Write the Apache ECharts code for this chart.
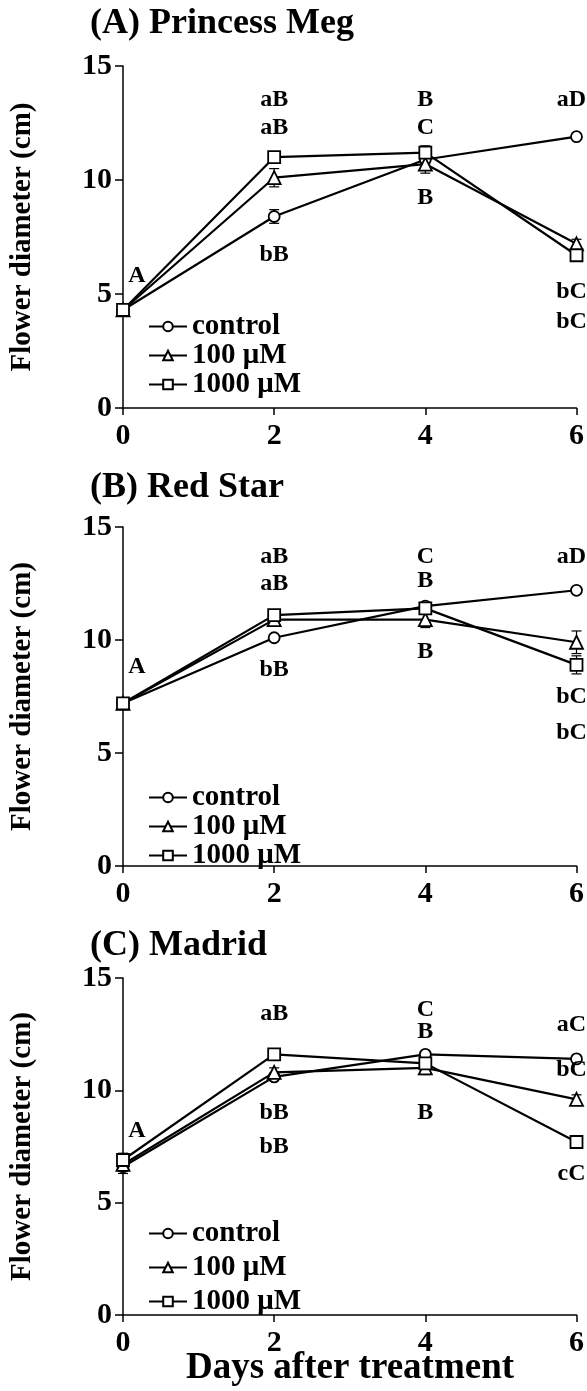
<!DOCTYPE html>
<html>
<head>
<meta charset="utf-8">
<script src="https://cdn.jsdelivr.net/npm/echarts@6/dist/echarts.min.js"></script>
<style>
html,body{margin:0;padding:0;background:#fff;}
#chart{width:587px;height:1391px;}
</style>
</head>
<body>
<div id="chart"></div>
<script>
// ---- data ----
const days = [0, 2, 4, 6];
const xTicks = ['0', '2', '4', '6'];
const seriesNames = ['control', '100 μM', '1000 μM'];
const panelTitles = ['(A) Princess Meg', '(B) Red Star', '(C) Madrid'];

// Panel A – Princess Meg
const ctrlA = [4.3, 8.4, 10.9, 11.9];
const m100A = [4.3, 10.1, 10.7, 7.2];
const m1000A = [4.3, 11.0, 11.2, 6.7];
const errCtrlA = [0.1, 0.3, 0.2, 0.1];
const err100A = [0.1, 0.4, 0.4, 0.2];
const err1000A = [0.1, 0.1, 0.3, 0.1];
const lettersA = [[0, 5.8, 'A'], [2, 13.5, 'aB'], [2, 12.3, 'aB'], [2, 6.7, 'bB'],
  [4, 13.5, 'B'], [4, 12.3, 'C'], [4, 9.2, 'B'],
  [6, 13.5, 'aD'], [6, 5.1, 'bC'], [6, 3.8, 'bC']];

// Panel B – Red Star
const ctrlB = [7.2, 10.1, 11.5, 12.2];
const m100B = [7.2, 10.9, 10.9, 9.9];
const m1000B = [7.2, 11.1, 11.4, 8.9];
const errCtrlB = [0.2, 0.1, 0.1, 0.1];
const err100B = [0.2, 0.2, 0.35, 0.5];
const err1000B = [0.2, 0.2, 0.2, 0.4];
const lettersB = [[0, 8.8, 'A'], [2, 13.7, 'aB'], [2, 12.5, 'aB'], [2, 8.7, 'bB'],
  [4, 13.7, 'C'], [4, 12.6, 'B'], [4, 9.5, 'B'],
  [6, 13.7, 'aD'], [6, 7.5, 'bC'], [6, 5.9, 'bC']];

// Panel C – Madrid
const ctrlC = [6.6, 10.6, 11.6, 11.4];
const m100C = [6.7, 10.8, 11.0, 9.6];
const m1000C = [6.9, 11.6, 11.2, 7.7];
const errCtrlC = [0.3, 0.1, 0.1, 0.1];
const err100C = [0.3, 0.2, 0.3, 0.2];
const err1000C = [0.3, 0.1, 0.2, 0.2];
const lettersC = [[0, 8.2, 'A'], [2, 13.4, 'aB'], [2, 9.0, 'bB'], [2, 7.5, 'bB'],
  [4, 13.6, 'C'], [4, 12.6, 'B'], [4, 9.0, 'B'],
  [6, 12.9, 'aC'], [6, 10.9, 'bC'], [6, 6.3, 'cC']];

const yTicks = [0, 5, 10, 15];

// ---- layout / styles ----
const FONT = '"Liberation Serif", "Times New Roman", serif';
const grids = [
  { top: 66, height: 342 },
  { top: 527, height: 339 },
  { top: 978, height: 337 }
];
const titleTops = [6, 470, 928];
const legendTops = [312, 783, 1219];
const legendGaps = [0, 0, 5];
const symbols = ['circle', 'triangle', 'rect'];
const symbolSizes = [11, 13, 12];

const panels = [
  { vals: [ctrlA, m100A, m1000A], errs: [errCtrlA, err100A, err1000A], letters: lettersA },
  { vals: [ctrlB, m100B, m1000B], errs: [errCtrlB, err100B, err1000B], letters: lettersB },
  { vals: [ctrlC, m100C, m1000C], errs: [errCtrlC, err100C, err1000C], letters: lettersC }
];

const option = {
  backgroundColor: '#fff',
  animation: false,
  title: panelTitles.map((t, i) => ({
    text: t, left: 90, top: titleTops[i], padding: 0,
    textStyle: { fontFamily: FONT, fontWeight: 'bold', fontSize: 36, color: '#000' }
  })),
  graphic: [{
    type: 'text', x: 350, y: 1368,
    style: {
      text: 'Days after treatment', align: 'center', verticalAlign: 'middle',
      font: 'bold 37px ' + FONT, fill: '#000'
    }
  }],
  legend: legendTops.map((t, i) => ({
    data: seriesNames, orient: 'vertical', left: 148, top: t,
    itemWidth: 38, itemHeight: 12, itemGap: legendGaps[i], selectedMode: false, padding: 0,
    textStyle: { fontFamily: FONT, fontWeight: 'bold', fontSize: 29, lineHeight: 27, color: '#000', padding: [0, 0, 0, 0] }
  })),
  grid: grids.map(g => ({ left: 123, right: 9, top: g.top, height: g.height })),
  xAxis: grids.map((g, i) => ({
    type: 'value', gridIndex: i, min: 0, max: 6, interval: 2,
    axisLine: { lineStyle: { color: '#000', width: 1.5 } },
    axisTick: { show: true, length: 7, lineStyle: { color: '#000', width: 1.5 } },
    splitLine: { show: false },
    axisLabel: {
      margin: 13, fontFamily: FONT, fontWeight: 'bold', fontSize: 30, color: '#000',
      formatter: v => xTicks[days.indexOf(v)] ?? ''
    }
  })),
  yAxis: grids.map((g, i) => ({
    type: 'value', gridIndex: i, min: 0, max: 15, interval: 5,
    name: 'Flower diameter (cm)', nameLocation: 'middle', nameGap: 86,
    nameTextStyle: { fontFamily: FONT, fontWeight: 'bold', fontSize: 29, color: '#000' },
    axisLine: { show: true, lineStyle: { color: '#000', width: 1.5 } },
    axisTick: { show: true, length: 8, lineStyle: { color: '#000', width: 1.5 } },
    splitLine: { show: false },
    axisLabel: {
      margin: 11, fontFamily: FONT, fontWeight: 'bold', fontSize: 30, color: '#000',
      formatter: v => yTicks.includes(v) ? String(v) : ''
    }
  })),
  series: []
};

panels.forEach((p, gi) => {
  // error bars
  p.vals.forEach((vals, si) => {
    option.series.push({
      type: 'custom', xAxisIndex: gi, yAxisIndex: gi, z: 1, silent: true,
      data: days.map((d, k) => [d, vals[k] - p.errs[si][k], vals[k] + p.errs[si][k]]),
      renderItem: (params, api) => {
        const x = api.value(0);
        const top = api.coord([x, api.value(2)]);
        const bot = api.coord([x, api.value(1)]);
        const w = 5;
        const st = { stroke: '#000', lineWidth: 1.2 };
        return {
          type: 'group', children: [
            { type: 'line', shape: { x1: top[0], y1: top[1], x2: bot[0], y2: bot[1] }, style: st },
            { type: 'line', shape: { x1: top[0] - w, y1: top[1], x2: top[0] + w, y2: top[1] }, style: st },
            { type: 'line', shape: { x1: bot[0] - w, y1: bot[1], x2: bot[0] + w, y2: bot[1] }, style: st }
          ]
        };
      }
    });
  });
  // lines
  p.vals.forEach((vals, si) => {
    option.series.push({
      type: 'line', name: seriesNames[si], xAxisIndex: gi, yAxisIndex: gi, z: 3 + si,
      data: days.map((d, k) => [d, vals[k]]),
      symbol: symbols[si], symbolSize: symbolSizes[si], showSymbol: true,
      lineStyle: { color: '#000', width: 2.2 },
      itemStyle: { color: '#fff', borderColor: '#000', borderWidth: 1.8 },
      emphasis: { disabled: true }
    });
  });
  // significance letters
  option.series.push({
    type: 'scatter', xAxisIndex: gi, yAxisIndex: gi, z: 10, silent: true,
    symbolSize: 0, itemStyle: { opacity: 1 },
    data: p.letters.map(l => ({
      value: [l[0], l[1]], name: l[2],
      label: { offset: l[0] === 0 ? [14, 0] : (l[0] === 6 ? [-5, 0] : [0, 0]) }
    })),
    label: {
      show: true, position: 'inside', formatter: q => q.name,
      fontFamily: FONT, fontWeight: 'bold', fontSize: 24, color: '#000', opacity: 1
    }
  });
});

const chart = echarts.init(document.getElementById('chart'), null, { renderer: 'canvas' });
chart.setOption(option);
</script>
</body>
</html>
